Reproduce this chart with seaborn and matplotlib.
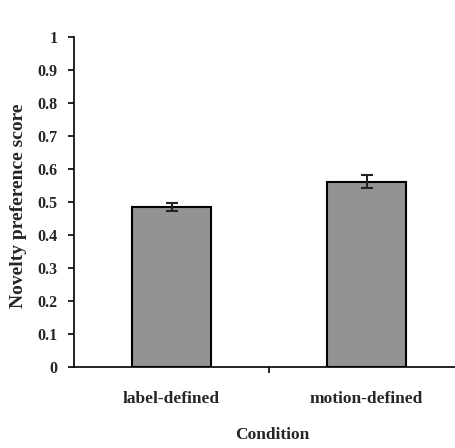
import matplotlib
matplotlib.use("Agg")
import matplotlib.pyplot as plt
import seaborn as sns
import pandas as pd

categories = ["label-defined", "motion-defined"]
scores = [0.484, 0.561]
errors = [0.012, 0.020]
y_ticks = [0, 0.1, 0.2, 0.3, 0.4, 0.5, 0.6, 0.7, 0.8, 0.9, 1]
y_tick_labels = ["0", "0.1", "0.2", "0.3", "0.4", "0.5", "0.6", "0.7", "0.8", "0.9", "1"]

sns.set_theme(style="white")
plt.rcParams["font.family"] = ["Liberation Serif", "DejaVu Serif"]
plt.rcParams["font.weight"] = "bold"

df = pd.DataFrame({"Condition": categories, "Score": scores})

fig = plt.figure(figsize=(4.56, 4.48), dpi=100)
ax = fig.add_axes([74/456, 81/448, 382/456, 330/448])

sns.barplot(data=df, x="Condition", y="Score", color="#939393", saturation=1,
            width=0.405, edgecolor="black", linewidth=1.5, errorbar=None, ax=ax)
ax.errorbar(x=range(len(categories)), y=scores, yerr=errors, fmt="none",
            ecolor="#222222", elinewidth=1.5, capsize=4.5, capthick=1.5)

ax.set_xlim(-0.5, -0.5 + 382/195)
ax.set_ylim(0, 1)
ax.set_yticks(y_ticks)
ax.set_yticklabels(y_tick_labels, fontsize=11.5, fontweight="bold")
ax.set_xticks([0, 1])
ax.set_xticklabels(categories, fontsize=12.5, fontweight="bold")
ax.set_xticks([0.5], minor=True)
ax.tick_params(axis="x", which="major", length=0, pad=17)
ax.tick_params(axis="x", which="minor", length=4, width=1.2, color="black", direction="out", bottom=True)
ax.tick_params(axis="y", length=4, width=1.2, color="black", direction="out", left=True, pad=8)

for s in ["top", "right"]:
    ax.spines[s].set_visible(False)
for s in ["left", "bottom"]:
    ax.spines[s].set_color("black")
    ax.spines[s].set_linewidth(1.2)

ax.set_ylabel("Novelty preference score", fontsize=14, fontweight="bold")
ax.set_xlabel("Condition", fontsize=12.5, fontweight="bold")
ax.xaxis.label.set_verticalalignment("center")
ax.yaxis.label.set_verticalalignment("center")
ax.xaxis.set_label_coords((272 - 74) / 382, -(435 - 367) / 330)
ax.yaxis.set_label_coords(-(74 - 18) / 382, (367 - 206) / 330)

fig.savefig("out.png", dpi=100)
